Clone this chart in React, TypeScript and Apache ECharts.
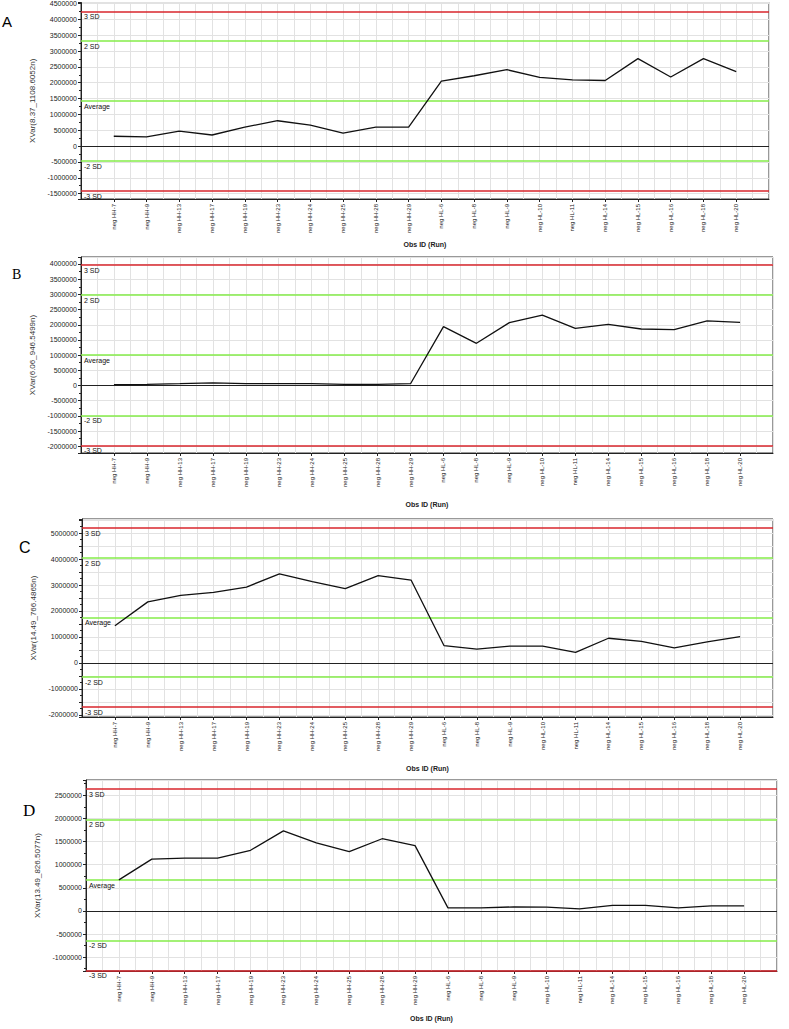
import React, { useEffect, useRef } from "react";
import * as echarts from "echarts";

const categories = [
  "neg HH-7", "neg HH-9", "neg HH-13", "neg HH-17", "neg HH-19", "neg HH-23", "neg HH-24",
  "neg HH-25", "neg HH-28", "neg HH-29", "neg HL-6", "neg HL-8", "neg HL-9", "neg HL-10",
  "neg HL-11", "neg HL-14", "neg HL-15", "neg HL-16", "neg HL-18", "neg HL-20",
];

const valuesA = [310000, 290000, 470000, 350000, 600000, 800000, 660000, 410000, 600000, 600000,
  2050000, 2220000, 2410000, 2170000, 2090000, 2070000, 2760000, 2180000, 2760000, 2350000];
const valuesB = [30000, 40000, 60000, 90000, 60000, 60000, 60000, 40000, 40000, 60000,
  1940000, 1390000, 2070000, 2320000, 1880000, 2010000, 1860000, 1840000, 2130000, 2080000];
const valuesC = [1430000, 2350000, 2600000, 2720000, 2920000, 3430000, 3130000, 2860000, 3360000, 3190000,
  670000, 530000, 650000, 650000, 410000, 950000, 830000, 580000, 810000, 1010000];
const valuesD = [670000, 1120000, 1140000, 1140000, 1310000, 1730000, 1470000, 1280000, 1560000, 1410000,
  65000, 65000, 86000, 80000, 43000, 120000, 120000, 65000, 108000, 108000];

const limitLabels = ["3 SD", "2 SD", "Average", "-2 SD", "-3 SD"];
const limitsA = [4255000, 3310000, 1420000, -470000, -1415000];
const limitsB = [3970000, 2980000, 1000000, -980000, -1970000];
const limitsC = [5200000, 4050000, 1750000, -550000, -1700000];
const limitsD = [2640000, 1980000, 670000, -640000, -1285000];

const yTitles = ["XVar(8.37_1108.6052n)", "XVar(6.06_946.5499n)", "XVar(14.49_766.4865n)", "XVar(13.49_826.5077n)"];
const panelLetters = ["A", "B", "C", "D"];
const xTitle = "Obs ID (Run)";

const RED = "#d8262c";
const GREEN = "#84ec48";

const panels = [
  { values: valuesA, limits: limitsA, grid: { left: 81, top: 2, width: 688, height: 197 }, min: -1670000, max: 4530000, split: 12, labelStep: 500000, xGap: 42, letter: { x: 2, y: 14, font: "'Liberation Sans', Arial, sans-serif", size: 15 } },
  { values: valuesB, limits: limitsB, grid: { left: 81, top: 257, width: 692, height: 196 }, min: -2220000, max: 4230000, split: 13, labelStep: 500000, xGap: 48, letter: { x: 12, y: 267, font: "'Liberation Serif', 'DejaVu Serif', serif", size: 14 } },
  { values: valuesC, limits: limitsC, grid: { left: 82, top: 519, width: 691, height: 198 }, min: -2080000, max: 5540000, split: 15, labelStep: 1000000, xGap: 48, letter: { x: 19, y: 539, font: "'Liberation Sans', Arial, sans-serif", size: 16 } },
  { values: valuesD, limits: limitsD, grid: { left: 86, top: 780, width: 691, height: 191 }, min: -1300000, max: 2830000, split: 8, labelStep: 500000, xGap: 44, letter: { x: 23, y: 802, font: "'Liberation Serif', 'DejaVu Serif', serif", size: 17 } },
];

const FONT = "'Liberation Sans', Arial, sans-serif";

export default function App() {
  const ref = useRef<HTMLDivElement>(null);
  useEffect(() => {
    if (!ref.current) return;
    const chart = echarts.init(ref.current, null, { renderer: "svg" });
    const grids: any[] = [];
    const xAxes: any[] = [];
    const yAxes: any[] = [];
    const series: any[] = [];
    const graphics: any[] = [];
    panels.forEach((p, i) => {
      grids.push({ ...p.grid, show: true, borderColor: "#333", borderWidth: 1, backgroundColor: "transparent" });
      xAxes.push({
        type: "value",
        gridIndex: i,
        min: 0,
        max: 21,
        interval: 1,
        name: xTitle,
        nameLocation: "middle",
        nameGap: p.xGap,
        nameTextStyle: { fontFamily: FONT, fontSize: 7, fontWeight: "bold", color: "#222" },
        axisLine: { show: true, onZero: false, lineStyle: { color: "#222", width: 1 } },
        axisTick: { show: true, length: 3, lineStyle: { color: "#222" } },
        axisLabel: {
          rotate: 90,
          fontFamily: FONT,
          fontSize: 6,
          color: "#222",
          margin: 5,
          showMinLabel: false,
          showMaxLabel: false,
          formatter: (v: number) => categories[Math.round(v) - 1] ?? "",
        },
        splitLine: { show: true, lineStyle: { color: "#e2e2e2", width: 1 } },
        minorTick: { show: false, splitNumber: 2 },
        minorSplitLine: { show: true, lineStyle: { color: "#e2e2e2", width: 1 } },
      });
      yAxes.push({
        type: "value",
        gridIndex: i,
        min: p.min,
        max: p.max,
        splitNumber: p.split,
        name: yTitles[i],
        nameLocation: "middle",
        nameGap: 39,
        nameTextStyle: { fontFamily: FONT, fontSize: 8, color: "#333" },
        axisLine: { show: true, lineStyle: { color: "#222", width: 1 } },
        axisTick: { show: true, length: 3, lineStyle: { color: "#222" } },
        minorTick: { show: true, splitNumber: 2, length: 2, lineStyle: { color: "#222" } },
        axisLabel: {
          fontFamily: FONT,
          fontSize: 7,
          color: "#222",
          margin: 4,
          formatter: (v: number) => (Math.abs(v % p.labelStep) < 1 ? String(Math.round(v)) : ""),
        },
        splitLine: { show: true, lineStyle: { color: "#e2e2e2", width: 1 } },
      });
      const lineData: any[] = p.limits.map((val, k) => ({
        yAxis: val,
        lineStyle: { color: k === 0 || k === 4 ? RED : GREEN, width: 1.6, type: "solid" },
        label: {
          show: true,
          position: "insideStartBottom",
          formatter: limitLabels[k],
          fontFamily: FONT,
          fontSize: 7,
          color: "#111",
          distance: [3, 2],
        },
      }));
      lineData.push({ yAxis: 0, lineStyle: { color: "#222", width: 1, type: "solid" }, label: { show: false } });
      series.push({
        type: "line",
        xAxisIndex: i,
        yAxisIndex: i,
        data: p.values.map((v, k) => [k + 1, v]),
        showSymbol: false,
        symbol: "none",
        lineStyle: { color: "#111", width: 1.3 },
        z: 5,
        markLine: {
          silent: true,
          symbol: "none",
          animation: false,
          data: lineData,
        },
      });
      graphics.push({
        type: "text",
        left: p.letter.x,
        top: p.letter.y,
        style: { text: panelLetters[i], font: `${p.letter.size}px ${p.letter.font}`, fill: "#000" },
      });
    });
    chart.setOption({
      animation: false,
      backgroundColor: "#fff",
      grid: grids,
      xAxis: xAxes,
      yAxis: yAxes,
      series,
      graphic: graphics,
    });
    return () => chart.dispose();
  }, []);
  return <div ref={ref} style={{ position: "absolute", left: 0, top: 0, width: 789, height: 1029 }} />;
}
